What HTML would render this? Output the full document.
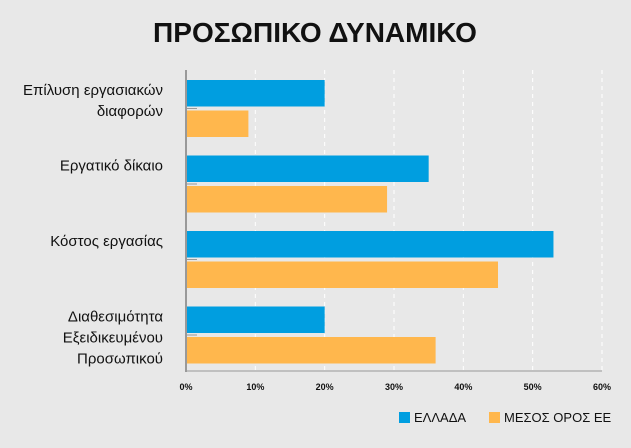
<!DOCTYPE html>
<html><head><meta charset="utf-8"><style>
body{margin:0;width:631px;height:443px;background:#e8e8e8;overflow:hidden;font-family:"Liberation Sans",sans-serif}
</style></head><body>
<svg width="631" height="443">
<text x="315" y="42" text-anchor="middle" font-size="28" font-weight="bold" fill="#111">ΠΡΟΣΩΠΙΚΟ ΔΥΝΑΜΙΚΟ</text>
<g id="grid"></g><g id="bars"></g><g id="labels"></g><g id="ticks"></g>
<line x1="186" y1="70" x2="186" y2="372" stroke="#999" stroke-width="2"/>
<line x1="186" y1="371" x2="602" y2="371" stroke="#999" stroke-width="1"/>
<g>
<rect x="399" y="412" width="11" height="11" fill="#009ee0"/>
<text x="414" y="422" font-size="13" fill="#111">ΕΛΛΑΔΑ</text>
<rect x="489" y="412" width="11" height="11" fill="#ffb74d"/>
<text x="504" y="422" font-size="13" fill="#111">ΜΕΣΟΣ ΟΡΟΣ ΕΕ</text>
</g>
</svg>
<script>
const categories=[["Επίλυση εργασιακών","διαφορών"],["Εργατικό δίκαιο"],["Κόστος εργασίας"],["Διαθεσιμότητα","Εξειδικευμένου","Προσωπικού"]];
const greece=[20,35,53,20];
const eu=[9,29,45,36];
const ticks=[0,10,20,30,40,50,60];
const NS="http://www.w3.org/2000/svg";
const x0=186,x1=602,xmax=60;
const xs=v=>x0+(x1-x0)*v/xmax;
const gTop=80,gStep=75.5,bh=26.5;
function mk(t,a,p){const e=document.createElementNS(NS,t);for(const k in a)e.setAttribute(k,a[k]);document.getElementById(p).appendChild(e);return e;}
ticks.forEach((t,i)=>{
 if(i>0){const l=mk('line',{x1:xs(t),y1:70,x2:xs(t),y2:371,stroke:'#fff','stroke-width':1,'stroke-dasharray':'4 4'},'grid');
 
 }
 const tx=mk('text',{x:xs(t),y:390,'font-size':9,'font-weight':'bold','text-anchor':'middle',fill:'#111'},'ticks');
 tx.textContent=t+'%';
 
 
});
categories.forEach((c,i)=>{
 const y=gTop+i*gStep;
 const b1=mk('rect',{x:x0,y:y,width:xs(greece[i])-x0,height:bh,fill:'#009ee0'},'bars');
 
 
 const b2=mk('rect',{x:x0,y:y+30.5,width:xs(eu[i])-x0,height:bh,fill:'#ffb74d'},'bars');
 
 
 mk('line',{x1:x0,y1:y+28.5,x2:x0+11,y2:y+28.5,stroke:'#999','stroke-width':1},'bars');
 c.forEach((line,j)=>{
  const t=mk('text',{x:163,y:y+15+j*21,'font-size':15,'text-anchor':'end',fill:'#111'},'labels');
  t.textContent=line;
  
  
 });
});
</script>
</body></html>
